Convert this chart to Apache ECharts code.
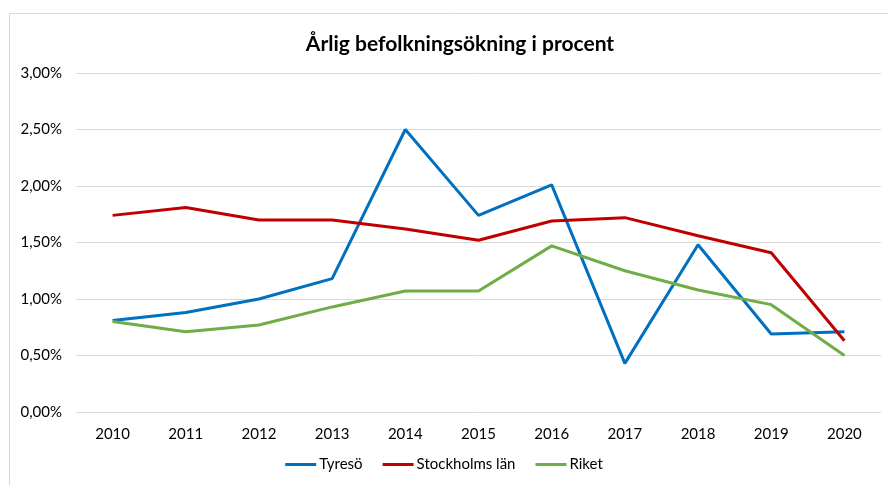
<!DOCTYPE html>
<html>
<head>
<meta charset="utf-8">
<script src="https://cdn.jsdelivr.net/npm/echarts@6/dist/echarts.min.js"></script>
<style>
  html, body { margin: 0; padding: 0; background: #fff; }
  #chart { width: 888px; height: 485px; }
</style>
</head>
<body>
<div id="chart"></div>
<script>
// Årlig befolkningsökning i procent
const years = ['2010', '2011', '2012', '2013', '2014', '2015', '2016', '2017', '2018', '2019', '2020']
const tyreso = [0.81, 0.88, 1.00, 1.18, 2.50, 1.74, 2.01, 0.43, 1.48, 0.69, 0.71]
const stockholmsLan = [1.74, 1.81, 1.70, 1.70, 1.62, 1.52, 1.69, 1.72, 1.56, 1.41, 0.63]
const riket = [0.80, 0.71, 0.77, 0.93, 1.07, 1.07, 1.47, 1.25, 1.08, 0.95, 0.50]

const font = 'Lato, "Liberation Sans", sans-serif'
const chart = echarts.init(document.getElementById('chart'))

const line = (name, data, color) => ({
  name: name,
  type: 'line',
  data: data,
  symbol: 'none',
  lineStyle: { width: 3, color: color },
  itemStyle: { color: color }
})

chart.setOption({
  animation: false,
  textStyle: { fontFamily: font },
  graphic: [{
    type: 'rect',
    shape: { x: 9.5, y: 13.5, width: 890, height: 480 },
    style: { fill: 'none', stroke: '#d9d9d9', lineWidth: 1 }
  }],
  title: {
    text: 'Årlig befolkningsökning i procent',
    left: 455,
    top: 29,
    textAlign: 'center',
    textStyle: { fontFamily: font, fontSize: 21, fontWeight: 'bold', color: '#000' }
  },
  grid: { left: 76, right: 7, top: 73, bottom: 73, containLabel: false },
  legend: {
    bottom: 8,
    left: 'center',
    icon: 'rect',
    itemWidth: 31,
    itemHeight: 3,
    itemGap: 20,
    textStyle: { fontFamily: font, fontSize: 15, color: '#000', padding: [0, 0, 0, -2] },
    data: ['Tyresö', 'Stockholms län', 'Riket']
  },
  xAxis: {
    type: 'category',
    data: years,
    boundaryGap: true,
    axisLine: { lineStyle: { color: '#d9d9d9', width: 1 } },
    axisTick: { show: false },
    axisLabel: { color: '#000', fontSize: 15, margin: 15, fontFamily: font }
  },
  yAxis: {
    type: 'value',
    min: 0,
    max: 3,
    interval: 0.5,
    axisLine: { show: false },
    axisTick: { show: false },
    splitLine: { lineStyle: { color: '#d9d9d9', width: 1 } },
    axisLabel: {
      color: '#000',
      fontSize: 15,
      margin: 14,
      fontFamily: font,
      formatter: v => v.toFixed(2).replace('.', ',') + '%'
    }
  },
  series: [
    line('Tyresö', tyreso, '#0070C0'),
    line('Stockholms län', stockholmsLan, '#C00000'),
    line('Riket', riket, '#70AD47')
  ]
})

window.addEventListener('resize', () => {
  chart?.resize()
})
</script>
</body>
</html>
